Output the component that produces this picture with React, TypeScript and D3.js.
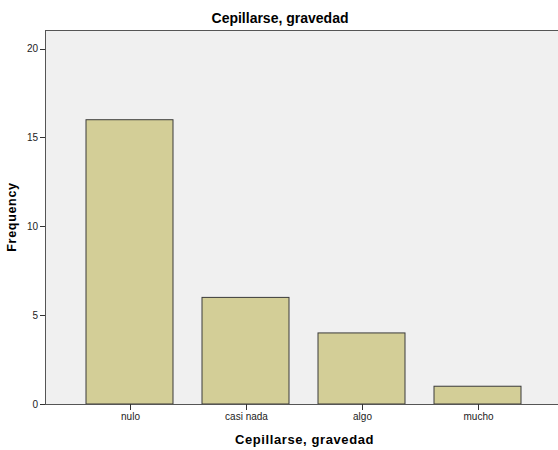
import React from "react";
import * as d3 from "d3";

const categories = ["nulo", "casi nada", "algo", "mucho"];
const frequencies = [16, 6, 4, 1];
const yTicks = [0, 5, 10, 15, 20];
const title = "Cepillarse, gravedad";
const xTitle = "Cepillarse, gravedad";
const yTitle = "Frequency";

const W = 558;
const H = 450;
const plotLeft = 45;
const plotTop = 30;
const plotRight = 558;
const plotBottom = 404;

export default function App() {
  const y = d3.scaleLinear().domain([0, 21.05]).range([plotBottom, plotTop]);
  const x = d3
    .scaleBand<string>()
    .domain(categories)
    .range([71.5, 535.5])
    .paddingInner(0.25)
    .paddingOuter(0.125);
  const font = "Arial, 'Liberation Sans', sans-serif";
  return (
    <svg
      width={W}
      height={H}
      style={{ position: "absolute", left: 0, top: 0, display: "block" }}
      fontFamily={font}
    >
      <rect x={0} y={0} width={W} height={H} fill="#fff" />
      <rect
        x={plotLeft}
        y={plotTop}
        width={plotRight - plotLeft}
        height={plotBottom - plotTop}
        fill="#F0F0F0"
      />
      <text x={280} y={23} textAnchor="middle" fontSize={14} fontWeight="bold" fill="#000">
        {title}
      </text>
      {categories.map((c, i) => (
        <rect
          key={c}
          x={x(c)}
          y={y(frequencies[i])}
          width={x.bandwidth()}
          height={plotBottom - y(frequencies[i])}
          fill="#D3CE97"
          stroke="#3A3A3A"
          strokeWidth={1}
        />
      ))}
      <line x1={plotLeft} x2={plotRight} y1={plotTop + 0.5} y2={plotTop + 0.5} stroke="#555" />
      <line x1={plotLeft + 0.5} x2={plotLeft + 0.5} y1={plotTop} y2={plotBottom} stroke="#555" />
      <line x1={plotLeft} x2={plotRight} y1={plotBottom + 0.5} y2={plotBottom + 0.5} stroke="#555" />
      {yTicks.map((t) => (
        <g key={t}>
          <line x1={40} x2={plotLeft} y1={Math.round(y(t)) + 0.5} y2={Math.round(y(t)) + 0.5} stroke="#333" />
          <text x={38} y={y(t) + 3.5} textAnchor="end" fontSize={10} fill="#222">
            {t}
          </text>
        </g>
      ))}
      {categories.map((c) => {
        const cx = Math.round((x(c) as number) + x.bandwidth() / 2) + 0.5;
        return (
          <g key={c}>
            <line x1={cx} x2={cx} y1={plotBottom} y2={plotBottom + 6} stroke="#333" />
            <text x={cx} y={420} textAnchor="middle" fontSize={10} fill="#222">
              {c}
            </text>
          </g>
        );
      })}
      <text
        x={304.5}
        y={444}
        textAnchor="middle"
        fontSize={13}
        fontWeight="bold"
        letterSpacing={0.6}
        fill="#000"
      >
        {xTitle}
      </text>
      <text
        transform={`translate(16, 217) rotate(-90)`}
        textAnchor="middle"
        fontSize={12.5}
        fontWeight="bold"
        letterSpacing={0.7}
        fill="#000"
      >
        {yTitle}
      </text>
    </svg>
  );
}
